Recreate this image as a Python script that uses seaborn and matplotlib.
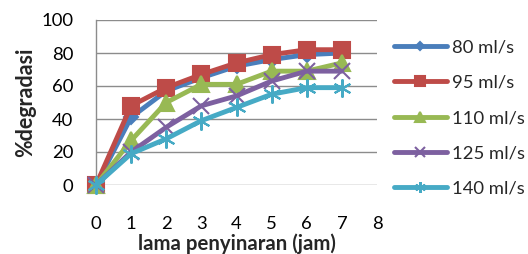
import matplotlib
matplotlib.use("Agg")
import matplotlib.pyplot as plt
import seaborn as sns
import pandas as pd

hours = [0, 1, 2, 3, 4, 5, 6, 7]
s80 = [0, 41, 57, 65, 72, 76, 79, 80]
s95 = [0, 48, 59, 67, 74, 79, 82, 82]
s110 = [0, 27, 50, 61, 61, 69, 69, 74]
s125 = [0, 20, 35, 48, 54, 63, 69, 69]
s140 = [0, 19, 28, 39, 47, 55, 59, 59]
labels = ["80 ml/s", "95 ml/s", "110 ml/s", "125 ml/s", "140 ml/s"]

series = [s80, s95, s110, s125, s140]
colors = ["#4A7EBB", "#BE4B48", "#98B954", "#7D60A0", "#46AAC5"]
markers = ["D", "s", "^", "x", (6, 2, 0)]
msizes = [7, 12, 11, 11, 13]

sns.set_theme(style="white")
plt.rcParams["font.family"] = ["Lato", "DejaVu Sans"]

fig = plt.figure(figsize=(5.28, 2.54), dpi=100)
ax = fig.add_axes([96/528, 1-185/254, (377-96)/528, (185-20)/254])

for vals, lab, c, m, ms in zip(series, labels, colors, markers, msizes):
    df = pd.DataFrame({"x": hours, "y": vals})
    sns.lineplot(data=df, x="x", y="y", ax=ax, color=c, lw=3.5, marker=m,
                 markersize=ms, markeredgecolor=c, markeredgewidth=1.5,
                 label=lab, clip_on=False, zorder=3)

ax.set_xlim(0, 8)
ax.set_ylim(0, 100)
ax.set_xticks(range(0, 9))
ax.set_yticks(range(0, 101, 20))
ax.grid(axis="y", color="#8c8c8c", lw=1)
ax.grid(axis="x", visible=False)
for s in ["top", "right", "bottom"]:
    ax.spines[s].set_visible(False)
ax.spines["left"].set_color("#8c8c8c")
ax.spines["left"].set_linewidth(1)
ax.tick_params(axis="x", length=0, pad=22, labelsize=13.3, colors="black")
ax.tick_params(axis="y", length=0, pad=16.5, labelsize=13.3, colors="black")
ax.set_xlabel("lama penyinaran (jam)", fontsize=14.7, fontweight="bold", labelpad=1.5)
ax.set_ylabel("%degradasi", fontsize=15.5, fontweight="bold", labelpad=3.5)

handles, lbls = ax.get_legend_handles_labels()
ax.legend_.remove()
fig.legend(handles, lbls, loc="center left", bbox_to_anchor=(386.5/528, 1-118/254),
           frameon=False, fontsize=13.3, markerscale=0.6, handlelength=2.86,
           handletextpad=0.27, labelspacing=1.05, borderaxespad=0)

fig.savefig("out.png", dpi=100)
